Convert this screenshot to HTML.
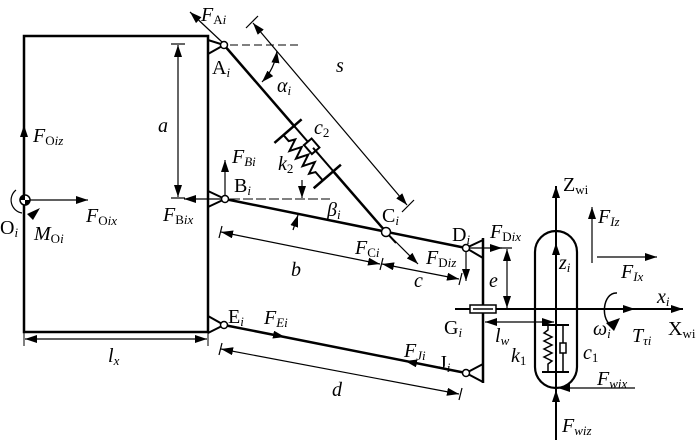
<!DOCTYPE html>
<html><head><meta charset="utf-8"><style>
html,body{margin:0;padding:0;background:#fff}
svg{display:block}
text{font-family:"Liberation Serif",serif;font-size:20px;fill:#000}
.i{font-style:italic}
.s{font-size:13px}
</style></head><body>
<svg width="700" height="440" viewBox="0 0 700 440" xmlns="http://www.w3.org/2000/svg">
<defs>
<marker id="ar" viewBox="0 0 12 8" refX="12" refY="4" markerWidth="12" markerHeight="8" markerUnits="userSpaceOnUse" orient="auto-start-reverse"><path d="M0,0 L12,4 L0,8 Z" fill="#000"/></marker>
</defs>
<g stroke="#000" fill="none">
<rect x="24" y="36" width="184" height="296" stroke-width="2.5"/>
<line x1="24" y1="332" x2="24" y2="346" stroke-width="1"/>
<line x1="208" y1="332" x2="208" y2="346" stroke-width="1"/>
<line x1="25" y1="339" x2="207" y2="339" stroke-width="1.2" marker-start="url(#ar)" marker-end="url(#ar)"/>
<line x1="171" y1="44" x2="185" y2="44" stroke-width="1.2"/>
<line x1="171" y1="198" x2="185" y2="198" stroke-width="1.2"/>
<line x1="178" y1="45" x2="178" y2="197" stroke-width="1.2" marker-start="url(#ar)" marker-end="url(#ar)"/>
<line x1="24" y1="200" x2="24" y2="125" stroke-width="1.2" marker-end="url(#ar)"/>
<line x1="25" y1="200" x2="88" y2="200" stroke-width="1.2" marker-end="url(#ar)"/>
<circle cx="25" cy="200" r="5" fill="#fff" stroke-width="1.5"/>
<path d="M25,200 L25,195 A5,5 0 0,0 20,200 Z M25,200 L30,200 A5,5 0 0,1 25,205 Z" fill="#000" stroke="none"/>
<path d="M16,190 A13,13 0 0,0 22,213" stroke-width="1.2"/>
<path d="M27,214 L40,208 L33,220 Z" fill="#000" stroke="none"/>
<path d="M208,40 L224,45 L208,54" stroke-width="2"/>
<path d="M208,191 L225,199 L208,207" stroke-width="2"/>
<path d="M208,316 L224,325 L208,333" stroke-width="2"/>
<line x1="224" y1="45" x2="295" y2="127" stroke-width="2.5"/>
<line x1="333" y1="171" x2="386" y2="232" stroke-width="2.5"/>
<line x1="386" y1="232" x2="396" y2="243" stroke-width="2"/>
<g transform="translate(224,45) rotate(49.1)">
 <line x1="107" y1="-10" x2="107" y2="26" stroke-width="2.5"/>
 <line x1="167" y1="-10" x2="167" y2="26" stroke-width="2.5"/>
 <line x1="107" y1="0" x2="128" y2="0" stroke-width="2"/>
 <rect x="128" y="-5" width="12" height="10" stroke-width="2"/>
 <line x1="136" y1="0" x2="167" y2="0" stroke-width="2"/>
 <polyline points="107,14 115,14 118,8 123,20 128,8 133,20 138,8 143,20 148,8 153,20 156,14 167,14" stroke-width="2"/>
</g>
<line x1="246" y1="28" x2="258" y2="16" stroke-width="1.2"/>
<line x1="402" y1="212" x2="414" y2="200" stroke-width="1.2"/>
<line x1="253" y1="23" x2="407" y2="205" stroke-width="1.2" marker-start="url(#ar)" marker-end="url(#ar)"/>
<line x1="222" y1="42" x2="190" y2="12" stroke-width="1.2" marker-end="url(#ar)"/>
<line x1="230" y1="45" x2="302" y2="45" stroke-width="1" stroke-dasharray="8,4"/>
<path d="M277,51 A55,55 0 0,1 262,82" stroke-width="1.2" marker-start="url(#ar)" marker-end="url(#ar)"/>
<line x1="225" y1="199" x2="466" y2="248" stroke-width="2.5"/>
<line x1="230" y1="199" x2="330" y2="199" stroke-width="1" stroke-dasharray="10,3"/>
<line x1="302" y1="180" x2="302" y2="198" stroke-width="1.2" marker-end="url(#ar)"/>
<line x1="293" y1="230" x2="298" y2="215" stroke-width="1.2" marker-end="url(#ar)"/>
<line x1="225" y1="198" x2="225" y2="160" stroke-width="1.2" marker-end="url(#ar)"/>
<line x1="222" y1="199" x2="184" y2="199" stroke-width="1.2" marker-end="url(#ar)"/>
<line x1="219" y1="238" x2="222" y2="226" stroke-width="1.2"/>
<line x1="380" y1="270" x2="383" y2="258" stroke-width="1.2"/>
<line x1="459" y1="285" x2="462" y2="273" stroke-width="1.2"/>
<line x1="221" y1="232" x2="380" y2="264" stroke-width="1.2" marker-start="url(#ar)" marker-end="url(#ar)"/>
<line x1="382" y1="264" x2="459" y2="279" stroke-width="1.2" marker-start="url(#ar)" marker-end="url(#ar)"/>
<line x1="388" y1="234" x2="418" y2="264" stroke-width="1.2" marker-end="url(#ar)"/>
<line x1="224" y1="325" x2="466" y2="373" stroke-width="2.5"/>
<line x1="270" y1="334" x2="285" y2="337" stroke-width="0" marker-end="url(#ar)"/>
<line x1="420" y1="364" x2="405" y2="361" stroke-width="0" marker-end="url(#ar)"/>
<line x1="219" y1="355" x2="222" y2="343" stroke-width="1.2"/>
<line x1="459" y1="400" x2="462" y2="388" stroke-width="1.2"/>
<line x1="221" y1="349" x2="459" y2="394" stroke-width="1.2" marker-start="url(#ar)" marker-end="url(#ar)"/>
<line x1="483" y1="238" x2="483" y2="383" stroke-width="2.5"/>
<path d="M483,240 L466,248 L483,258" stroke-width="2"/>
<path d="M483,364 L466,373 L483,382" stroke-width="2"/>
<line x1="469" y1="248" x2="502" y2="248" stroke-width="1.2" marker-end="url(#ar)"/>
<line x1="491" y1="248" x2="512" y2="248" stroke-width="1.2"/>
<line x1="466" y1="252" x2="466" y2="281" stroke-width="1.2" marker-end="url(#ar)"/>
<line x1="507" y1="249" x2="507" y2="308" stroke-width="1.2" marker-start="url(#ar)" marker-end="url(#ar)"/>
<line x1="455" y1="309" x2="683" y2="309" stroke-width="2" marker-end="url(#ar)"/>
<line x1="600" y1="309" x2="635" y2="309" stroke-width="1.2" marker-end="url(#ar)"/>
<rect x="470" y="305" width="26" height="8" fill="#fff" stroke-width="1.5"/>
<line x1="473" y1="309" x2="493" y2="309" stroke-width="1.5"/>
<line x1="485" y1="322" x2="554" y2="322" stroke-width="1.2" marker-start="url(#ar)" marker-end="url(#ar)"/>
<rect x="535" y="231" width="42" height="157" rx="21" ry="21" stroke-width="2.2"/>
<line x1="556" y1="440" x2="556" y2="186" stroke-width="2" marker-end="url(#ar)"/>
<line x1="556" y1="309" x2="556" y2="243" stroke-width="1.5" marker-end="url(#ar)"/>
<line x1="542" y1="325" x2="569" y2="325" stroke-width="2"/>
<line x1="542" y1="372" x2="569" y2="372" stroke-width="2"/>
<polyline points="548,325 548,330 544,333 552,337 544,341 552,345 544,349 552,353 544,357 552,361 548,364 548,372" stroke-width="1.5"/>
<line x1="563" y1="325" x2="563" y2="343" stroke-width="1.5"/>
<rect x="560" y="343" width="6" height="10" stroke-width="1.5"/>
<line x1="563" y1="353" x2="563" y2="372" stroke-width="1.5"/>
<line x1="556" y1="440" x2="556" y2="390" stroke-width="1.2" marker-end="url(#ar)"/>
<line x1="635" y1="388" x2="558" y2="388" stroke-width="1.2" marker-end="url(#ar)"/>
<line x1="592" y1="263" x2="592" y2="207" stroke-width="1.2" marker-end="url(#ar)"/>
<line x1="597" y1="257" x2="657" y2="257" stroke-width="1.2" marker-end="url(#ar)"/>
<path d="M617,293 C602,292 600,322 613,326" stroke-width="1.5"/>
<path d="M606,323 L620,318 L614,331 Z" fill="#000" stroke="none"/>
</g>
<g fill="#fff" stroke="#000" stroke-width="1.5">
<circle cx="224" cy="45" r="3.5"/><circle cx="225" cy="199" r="3.5"/><circle cx="224" cy="325" r="3.5"/>
<circle cx="386" cy="232" r="4.5"/><circle cx="466" cy="248" r="3.5"/><circle cx="466" cy="373" r="3.5"/>
</g>
<text x="201" y="21" class="i">F<tspan class="s" font-style="normal" dy="3">A<tspan font-style="italic">i</tspan></tspan></text>
<text x="212" y="74">A<tspan class="s i" dy="3">i</tspan></text>
<text x="277" y="92" class="i">α<tspan class="s" dy="3">i</tspan></text>
<text x="336" y="72" class="i">s</text>
<text x="314" y="134" class="i">c<tspan class="s" font-style="normal" dy="3">2</tspan></text>
<text x="278" y="170" class="i">k<tspan class="s" font-style="normal" dy="3">2</tspan></text>
<text x="158" y="132" class="i" font-size="24">a</text>
<text x="33" y="142" class="i">F<tspan class="s" font-style="normal" dy="3">O<tspan font-style="italic">iz</tspan></tspan></text>
<text x="86" y="222" class="i">F<tspan class="s" font-style="normal" dy="3">O<tspan font-style="italic">ix</tspan></tspan></text>
<text x="0" y="234">O<tspan class="s i" dy="3">i</tspan></text>
<text x="34" y="240" class="i">M<tspan class="s" font-style="normal" dy="3">O<tspan font-style="italic">i</tspan></tspan></text>
<text x="163" y="221" class="i">F<tspan class="s" font-style="normal" dy="3">B<tspan font-style="italic">ix</tspan></tspan></text>
<text x="232" y="163" class="i">F<tspan class="s" dy="3">Bi</tspan></text>
<text x="234" y="192">B<tspan class="s i" dy="3">i</tspan></text>
<text x="327" y="216" class="i">β<tspan class="s" dy="3">i</tspan></text>
<text x="291" y="276" class="i">b</text>
<text x="382" y="222">C<tspan class="s i" dy="3">i</tspan></text>
<text x="355" y="254" class="i">F<tspan class="s" font-style="normal" dy="3">C<tspan font-style="italic">i</tspan></tspan></text>
<text x="414" y="287" class="i">c</text>
<text x="426" y="264" class="i">F<tspan class="s" font-style="normal" dy="3">D<tspan font-style="italic">iz</tspan></tspan></text>
<text x="452" y="241">D<tspan class="s i" dy="3">i</tspan></text>
<text x="490" y="238" class="i">F<tspan class="s" font-style="normal" dy="3">D<tspan font-style="italic">ix</tspan></tspan></text>
<text x="489" y="287" class="i">e</text>
<text x="444" y="334">G<tspan class="s i" dy="3">i</tspan></text>
<text x="495" y="342" class="i">l<tspan class="s" dy="3">w</tspan></text>
<text x="511" y="362" class="i">k<tspan class="s" font-style="normal" dy="3">1</tspan></text>
<text x="583" y="359" class="i">c<tspan class="s" font-style="normal" dy="3">1</tspan></text>
<text x="597" y="385" class="i">F<tspan class="s" dy="3">wix</tspan></text>
<text x="562" y="432" class="i">F<tspan class="s" dy="3">wiz</tspan></text>
<text x="563" y="191">Z<tspan class="s" dy="3">wi</tspan></text>
<text x="559" y="269" class="i">z<tspan class="s" dy="3">i</tspan></text>
<text x="598" y="223" class="i">F<tspan class="s" dy="3">Iz</tspan></text>
<text x="621" y="278" class="i">F<tspan class="s" dy="3">Ix</tspan></text>
<text x="657" y="303" class="i">x<tspan class="s" dy="3">i</tspan></text>
<text x="668" y="335">X<tspan class="s" dy="3">wi</tspan></text>
<text x="593" y="335" class="i">ω<tspan class="s" dy="3">i</tspan></text>
<text x="632" y="342" class="i">T<tspan class="s" dy="3">τi</tspan></text>
<text x="439" y="369">J<tspan class="s i" dy="3">i</tspan></text>
<text x="404" y="357" class="i">F<tspan class="s" dy="3">Ji</tspan></text>
<text x="264" y="324" class="i">F<tspan class="s" dy="3">Ei</tspan></text>
<text x="228" y="323">E<tspan class="s i" dy="3">i</tspan></text>
<text x="332" y="396" class="i">d</text>
<text x="108" y="362" class="i">l<tspan class="s" dy="3">x</tspan></text>
</svg>
</body></html>
